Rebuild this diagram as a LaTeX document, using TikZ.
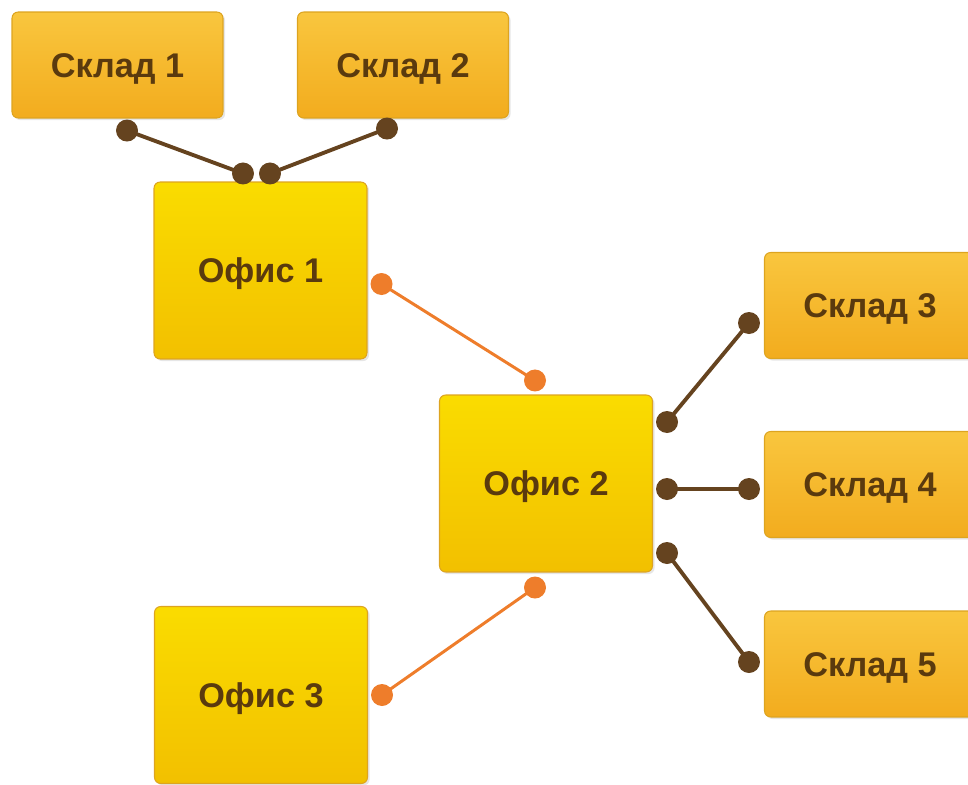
\documentclass[tikz,border=0pt]{standalone}
\usepackage{fontspec}
\setmainfont{Liberation Sans}
\usetikzlibrary{shadows}
\definecolor{skladtop}{HTML}{F9C63E}
\definecolor{skladbot}{HTML}{F2AC1E}
\definecolor{ofistop}{HTML}{FADC00}
\definecolor{ofisbot}{HTML}{F2C000}
\definecolor{boxline}{HTML}{DDA420}
\definecolor{textbrown}{HTML}{5A3A0E}
\definecolor{linkbrown}{HTML}{65431F}
\definecolor{linkorange}{HTML}{EE7D2B}
\begin{document}
\begin{tikzpicture}[x=0.02cm,y=-0.02cm]
\tikzstyle{every node}=[font=\bfseries\fontsize{19.5}{22}\selectfont,text=textbrown,text height=14pt,text depth=0pt]
\tikzstyle{box}=[rectangle,rounded corners=3.5pt,draw=boxline,line width=0.6pt,drop shadow={opacity=0.2,shadow xshift=1.2pt,shadow yshift=-1.2pt}]
\tikzstyle{sklad}=[box,minimum width=4.22cm,minimum height=2.12cm,top color=skladtop,bottom color=skladbot]
\tikzstyle{ofis}=[box,minimum width=4.26cm,minimum height=3.54cm,top color=ofistop,bottom color=ofisbot]
\tikzstyle{brownlink}=[draw=linkbrown,line width=2.2pt]
\tikzstyle{orangelink}=[draw=linkorange,line width=1.7pt]
\useasboundingbox (0,0) rectangle (968,785);
\clip (0,0) rectangle (968,785);
\node[sklad] (sklad1) at (117.5,65) {Склад 1};
\node[sklad] (sklad2) at (403,65) {Склад 2};
\node[ofis] (ofis1) at (260.5,270.5) {Офис 1};
\node[ofis] (ofis2) at (546,483.5) {Офис 2};
\node[ofis] (ofis3) at (261,695) {Офис 3};
\node[sklad] (sklad3) at (870,305.5) {Склад 3};
\node[sklad] (sklad4) at (870,484.5) {Склад 4};
\node[sklad] (sklad5) at (870,664) {Склад 5};
\coordinate (s1) at ([shift={(9.5,12)}]sklad1.south);
\coordinate (s2) at ([shift={(-16,10)}]sklad2.south);
\coordinate (s3) at ([shift={(-15,17.5)}]sklad3.west);
\coordinate (s4) at ([shift={(-15,4.5)}]sklad4.west);
\coordinate (s5) at ([shift={(-15,-2)}]sklad5.west);
\coordinate (o1a) at ([shift={(-17.5,-8)}]ofis1.north);
\coordinate (o1b) at ([shift={(9.5,-8)}]ofis1.north);
\coordinate (o1c) at ([shift={(14,13.5)}]ofis1.east);
\coordinate (o2a) at ([shift={(-11,-14)}]ofis2.north);
\coordinate (o2b) at ([shift={(-11,15)}]ofis2.south);
\coordinate (o2c) at ([shift={(14,-61.5)}]ofis2.east);
\coordinate (o2d) at ([shift={(14,5.5)}]ofis2.east);
\coordinate (o2e) at ([shift={(14,69.5)}]ofis2.east);
\coordinate (o3) at ([shift={(14,0)}]ofis3.east);
\draw[brownlink] (s1) -- (o1a);
\draw[brownlink] (s2) -- (o1b);
\draw[brownlink] (o2c) -- (s3);
\draw[brownlink] (o2d) -- (s4);
\draw[brownlink] (o2e) -- (s5);
\draw[orangelink] (o1c) -- (o2a);
\draw[orangelink] (o3) -- (o2b);
\foreach \c in {s1,s2,s3,s4,s5,o1a,o1b,o2c,o2d,o2e}
  \fill[linkbrown] (\c) circle (0.22cm);
\foreach \c in {o1c,o2a,o2b,o3}
  \fill[linkorange] (\c) circle (0.22cm);
\end{tikzpicture}
\end{document}
